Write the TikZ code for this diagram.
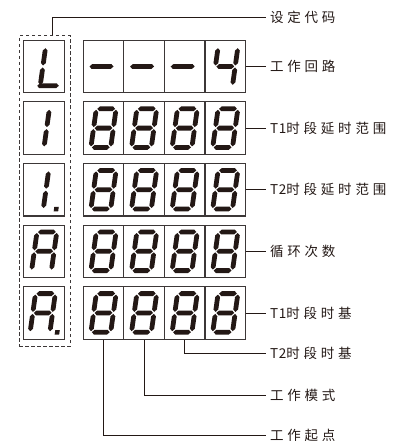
\documentclass[tikz,border=0pt]{standalone}
\usepackage{fontspec}
\newfontfamily\cjk[LetterSpace=28]{Noto Sans CJK SC}
\definecolor{ink}{RGB}{35,24,21}
\definecolor{edge}{RGB}{60,55,55}
% horizontal segment: y, x1, x2
\newcommand\hs[3]{\fill[ink] (#2+1,#1) -- (#2+3.4,#1-2.4) -- (#3-3.4,#1-2.4) -- (#3-1,#1) -- (#3-3.4,#1+2.4) -- (#2+3.4,#1+2.4) -- cycle;}
% vertical segment: x, y1, y2
\newcommand\vs[3]{\fill[ink] (#1,#2+1) -- (#1+2.4,#2+3.4) -- (#1+2.4,#3-3.4) -- (#1,#3-1) -- (#1-2.4,#3-3.4) -- (#1-2.4,#2+3.4) -- cycle;}
\newcommand\sgA{\hs{-19.3}{-9.9}{9.9}}
\newcommand\sgG{\hs{0}{-9.9}{9.9}}
\newcommand\sgD{\hs{19.3}{-9.9}{9.9}}
\newcommand\sgF{\vs{-9.9}{-19.3}{0}}
\newcommand\sgB{\vs{9.9}{-19.3}{0}}
\newcommand\sgE{\vs{-9.9}{0}{19.3}}
\newcommand\sgC{\vs{9.9}{0}{19.3}}
\newcommand\sgEight{\sgA\sgB\sgC\sgD\sgE\sgF\sgG}
\newcommand\tight[1]{{\addfontfeatures{LetterSpace=6}#1}}
\tikzset{dg/.pic={\begin{scope}[xslant=0.14]#1\end{scope}}}
\begin{document}
\begin{tikzpicture}[x=1pt,y=-1pt,
  cell/.style={draw=edge,line width=1.1pt,minimum width=40.6pt,minimum height=52.5pt,inner sep=0pt},
  lab/.style={anchor=west,inner sep=0pt,outer sep=4pt,text=ink,font=\cjk\fontsize{13.5}{15}\selectfont},
  lead/.style={draw=ink,line width=0.8pt}]
\useasboundingbox (0,0) rectangle (394,441);
\foreach \r/\y in {1/66.5,2/128.1,3/189.7,4/251.3,5/312.9} {
  \node[cell] (L\r) at (44.2,\y) {};
  \foreach \c/\x in {1/103.5,2/144.1,3/184.7,4/225.3} \node[cell] (R\r\c) at (\x,\y) {};
}
\node[draw=edge,dash pattern=on 3.5pt off 2.5pt,line width=1pt,minimum width=51pt,minimum height=310pt,inner sep=0pt] (box) at (44.5,191) {};
% left column glyphs
\pic at (L1) {dg={\vs{-1.3}{-19.3}{0}\vs{-1.3}{0}{19.3}\hs{19.3}{-5.3}{18.3}}};
\pic at (L2) {dg={\vs{2.5}{-19.3}{0}\vs{2.5}{0}{19.3}}};
\pic at (L3) {dg={\vs{1.8}{-19.3}{0}\vs{1.8}{0}{19.3}\fill[ink] (12.5,17.1) rectangle (17,21.6);}};
\pic at (L4) {dg={\sgA\sgB\sgC\sgE\sgF\sgG}};
\pic at ([xshift=-1.5pt]L5.center) {dg={\sgA\sgB\sgC\sgE\sgF\sgG\fill[ink] (15,17.1) rectangle (19.5,21.6);}};
% first row
\foreach \c in {1,2,3} \pic at (R1\c) {dg={\hs{0}{-15}{11}}};
\pic at (R14) {dg={\sgF\sgG\sgB\sgC}};
\foreach \r in {2,...,5} \foreach \c in {1,...,4} \pic at (R\r\c) {dg={\sgEight}};
% labels
\node[lab] (t0) at (266,17) {设定代码};
\node[lab] (t1) at (266,66.5) {工作回路};
\node[lab] (t2) at (266,128.1) {\tight{T1}时段延时范围};
\node[lab] (t3) at (266,189.7) {\tight{T2}时段延时范围};
\node[lab] (t4) at (266,251.3) {循环次数};
\node[lab] (t5) at (266,312.9) {\tight{T1}时段时基};
\node[lab] (t6) at (266,353) {\tight{T2}时段时基};
\node[lab] (t7) at (266,395) {工作模式};
\node[lab] (t8) at (266,435) {工作起点};
\draw[lead] ([xshift=7.5pt]box.north) |- (t0.west);
\foreach \r in {1,...,5} \draw[lead] (R\r4.east) -- (t\r.west);
\draw[lead] (R53.south) |- (t6.west);
\draw[lead] (R52.south) |- (t7.west);
\draw[lead] (R51.south) |- (t8.west);
\end{tikzpicture}
\end{document}
